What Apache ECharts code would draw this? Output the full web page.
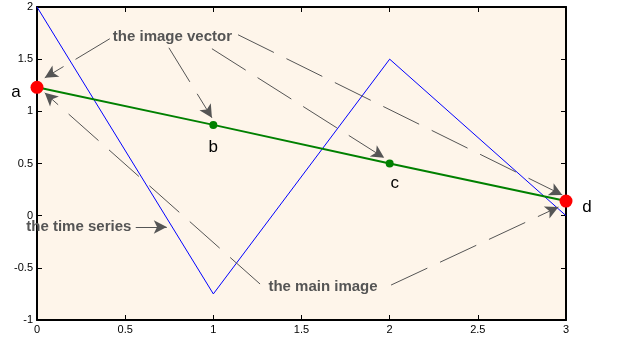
<!DOCTYPE html>
<html>
<head>
<meta charset="utf-8">
<script src="https://cdn.jsdelivr.net/npm/echarts@6/dist/echarts.min.js"></script>
<style>
  html, body { margin: 0; padding: 0; background: #fff; }
  #chart { width: 617px; height: 343px; }
</style>
</head>
<body>
<div id="chart"></div>
<script>
// time series (blue)
const seriesX = [0, 1, 2, 3];
const seriesY = [2, -0.75, 1.5, 0];

// image vector (green), end points in red
const vectorX = [0, 1, 2, 3];
const vectorY = [1.23, 0.87, 0.50, 0.14];
const pointNames = ['a', 'b', 'c', 'd'];

// axis ticks
const xTicks = [0, 0.5, 1, 1.5, 2, 2.5, 3];
const yTicks = [-1, -0.5, 0, 0.5, 1, 1.5, 2];

// annotations (data coordinates)
const arrowFrom = [
  [0.413, 1.696], [0.748, 1.609], [0.992, 1.600], [1.140, 1.734],
  [1.265, -0.655], [2.008, -0.665], [0.560, -0.109]
];
const arrowTo = [
  [0.044, 1.321], [0.992, 0.938], [1.969, 0.554], [2.979, 0.199],
  [0.044, 1.177], [2.957, 0.083], [0.736, -0.109]
];
const arrowDashed = [true, true, true, true, true, true, false];

const noteTexts = ['the image vector', 'the time series', 'the main image'];
const notePos = [[0.768, 1.715], [0.237, -0.109], [1.622, -0.684]];

// letter offsets around the points (pixels)
const letterOffsets = [[-21, 5], [0, 22], [5, 20], [21, 6]];

const chart = echarts.init(document.getElementById('chart'));

const axisBase = {
  type: 'value',
  axisLine: { show: true, onZero: false, lineStyle: { color: '#000', width: 2 } },
  axisTick: { show: true, inside: true, length: 5, lineStyle: { color: '#000', width: 1 } },
  splitLine: { show: false }
};

const vectorData = vectorX.map((x, i) => {
  const isEnd = i === 0 || i === vectorX.length - 1;
  return {
    value: [x, vectorY[i]],
    symbolSize: isEnd ? 13 : 8,
    itemStyle: { color: isEnd ? '#ff0000' : '#008000' },
    label: {
      show: true,
      formatter: pointNames[i],
      position: 'inside',
      offset: letterOffsets[i],
      color: '#000',
      fontSize: 17,
      fontFamily: 'Liberation Sans, Arial, sans-serif'
    }
  };
});

const arrowLines = arrowFrom.map((p, i) => [
  { coord: p },
  {
    coord: arrowTo[i],
    lineStyle: { type: arrowDashed[i] ? [40, 14] : 'solid' }
  }
]);

const notes = noteTexts.map((t, i) => ({
  coord: notePos[i],
  symbolSize: 0,
  label: {
    show: true,
    formatter: t,
    position: 'inside',
    color: '#555',
    fontSize: 15,
    fontWeight: 'bold',
    fontFamily: 'Liberation Sans, Arial, sans-serif'
  }
}));

const option = {
  animation: false,
  backgroundColor: '#fff',
  grid: {
    left: 37, right: 51, top: 7, bottom: 23,
    show: true, backgroundColor: '#fef5ea', borderWidth: 0
  },
  xAxis: [
    Object.assign({}, axisBase, {
      position: 'bottom', min: 0, max: 3, interval: 0.5,
      axisLabel: {
        color: '#000', fontSize: 11, margin: 4,
        fontFamily: 'Liberation Sans, Arial, sans-serif',
        formatter: v => xTicks.includes(v) ? String(v) : ''
      }
    }),
    Object.assign({}, axisBase, {
      position: 'top', min: 0, max: 3, interval: 0.5,
      axisLabel: { show: false }
    })
  ],
  yAxis: [
    Object.assign({}, axisBase, {
      position: 'left', min: -1, max: 2, interval: 0.5,
      axisLabel: {
        color: '#000', fontSize: 11, margin: 4,
        fontFamily: 'Liberation Sans, Arial, sans-serif',
        formatter: v => yTicks.includes(v) ? String(v) : ''
      }
    }),
    Object.assign({}, axisBase, {
      position: 'right', min: -1, max: 2, interval: 0.5,
      axisLabel: { show: false }
    })
  ],
  series: [
    {
      name: 'time series',
      type: 'line',
      data: seriesX.map((x, i) => [x, seriesY[i]]),
      showSymbol: false,
      lineStyle: { color: '#0000ff', width: 1 },
      z: 2
    },
    {
      name: 'annotations',
      type: 'line',
      data: [],
      markLine: {
        silent: true,
        symbol: ['none', 'arrow'],
        symbolSize: [10, 13],
        label: { show: false },
        lineStyle: { color: '#555', width: 1, type: [40, 14] },
        itemStyle: { color: '#555' },
        data: arrowLines
      },
      markPoint: {
        silent: true,
        symbol: 'circle',
        data: notes
      },
      z: 3
    },
    {
      name: 'image vector',
      type: 'line',
      data: vectorData,
      symbol: 'circle',
      showAllSymbol: true,
      lineStyle: { color: '#008000', width: 2 },
      itemStyle: { color: '#008000' },
      clip: false,
      z: 4
    }
  ]
};

chart.setOption(option);
</script>
</body>
</html>
